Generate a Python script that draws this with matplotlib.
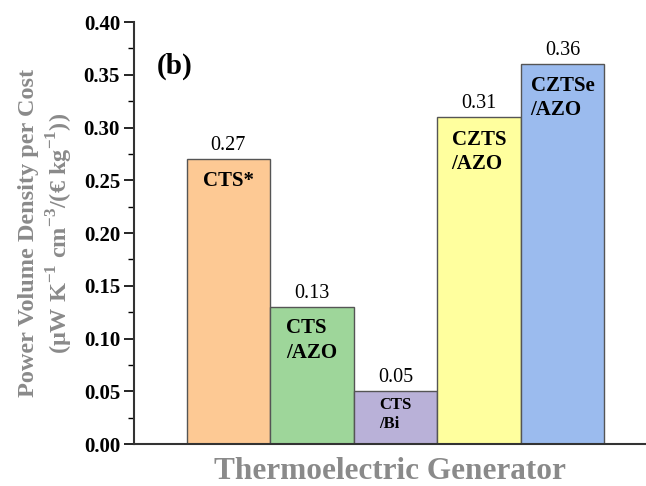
import matplotlib
matplotlib.use("Agg")
import matplotlib.pyplot as plt
from matplotlib.ticker import MultipleLocator

plt.rcParams['font.family'] = ['Liberation Serif', 'DejaVu Serif']
plt.rcParams['mathtext.fontset'] = 'custom'
plt.rcParams['mathtext.rm'] = 'Liberation Serif'
plt.rcParams['mathtext.bf'] = 'Liberation Serif:bold'

# data
labels = ["CTS*", "CTS\n/AZO", "CTS\n/Bi", "CZTS\n/AZO", "CZTSe\n/AZO"]
values = [0.27, 0.13, 0.05, 0.31, 0.36]
value_text = ["0.27", "0.13", "0.05", "0.31", "0.36"]
colors = ["#FDC994", "#9ED69A", "#B9B1D8", "#FFFF9E", "#9BBBEE"]
label_sizes = [15, 15, 12, 15, 15]
label_gaps = [0.011, 0.011, 0.005, 0.012, 0.011]

fig = plt.figure(figsize=(6.46, 4.86), dpi=100)
ax = fig.add_axes([0.2074, 0.0864, 0.7926, 0.8683])

x = list(range(len(values)))
ax.bar(x, values, width=1.0, color=colors, edgecolor="#555555", linewidth=1.0)

for xi, v, vt in zip(x, values, value_text):
    ax.text(xi, v + 0.004, vt, ha="center", va="bottom", fontsize=14.5)

for xi, v, lab, fs, g in zip(x, values, labels, label_sizes, label_gaps):
    ax.text(xi, v - g, lab, ha="center", va="top", multialignment="left",
            fontsize=fs, fontweight="bold", linespacing=1.3)

ax.set_xlim(-1.13, 5.0)
ax.set_ylim(0, 0.40)
ax.yaxis.set_major_locator(MultipleLocator(0.05))
ax.yaxis.set_minor_locator(MultipleLocator(0.025))
ax.set_yticklabels([f"{t:.2f}" for t in ax.get_yticks()], fontweight="bold", fontsize=15)
ax.set_xticks([])
ax.tick_params(axis="y", which="major", length=7, width=1.2, direction="out", pad=3)
ax.tick_params(axis="y", which="minor", length=4, width=1.0, direction="out")

for side in ["top", "right"]:
    ax.spines[side].set_visible(False)
for side in ["left", "bottom"]:
    ax.spines[side].set_linewidth(1.5)
    ax.spines[side].set_color("#333333")

ax.set_ylabel("Power Volume Density per Cost\n"
              r"(μW K$^{\mathbf{-1}}$ cm$^{\mathbf{-3}}$/(€ kg$^{\mathbf{-1}}$))",
              fontsize=17.5, fontweight="bold", color="#8a8a8a", linespacing=1.25,
              labelpad=6)
ax.set_xlabel("Thermoelectric Generator", fontsize=22.5, fontweight="bold",
              color="#8a8a8a", labelpad=9)

ax.text(0.045, 0.895, "(b)", transform=ax.transAxes, fontsize=21,
        fontweight="bold", va="center", ha="left")

fig.savefig("out.png", dpi=100)
